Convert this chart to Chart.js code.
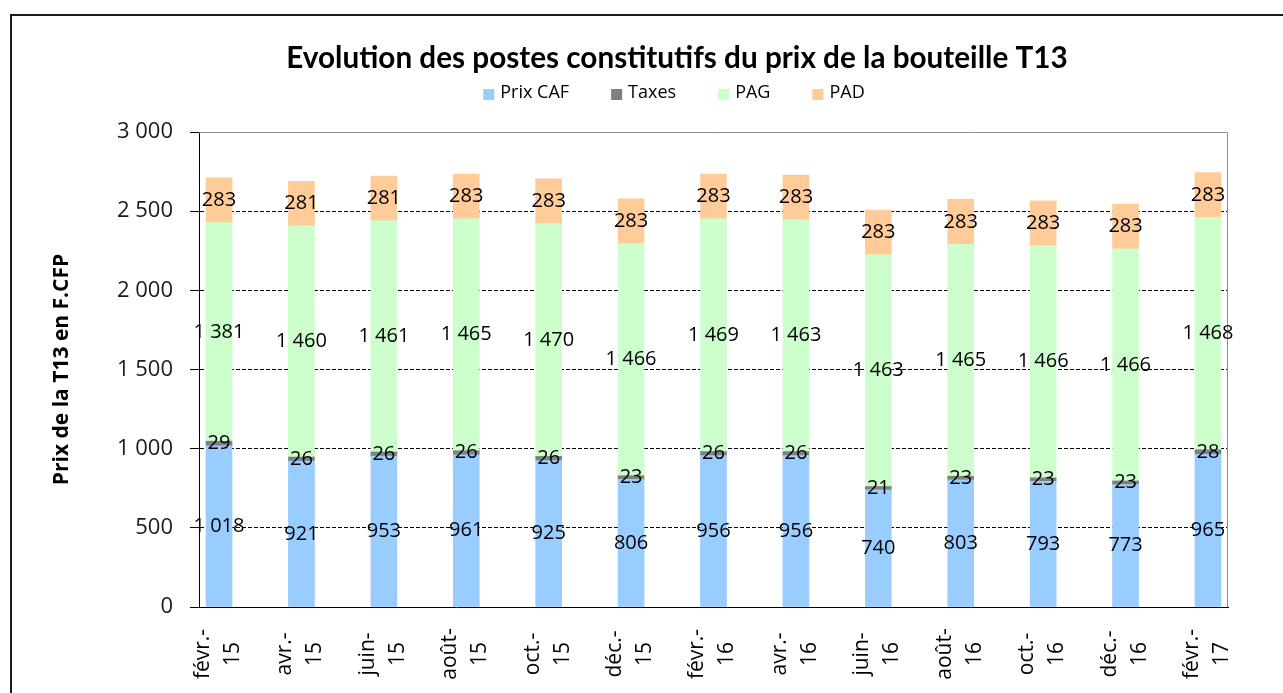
<!DOCTYPE html>
<html>
<head>
<meta charset="utf-8">
<script src="https://cdn.jsdelivr.net/npm/chart.js@4.4.1/dist/chart.umd.min.js"></script>
<style>
  html, body { margin: 0; padding: 0; background: #fff; overflow: hidden; }
  #frame { position: absolute; left: 10px; top: 14px; width: 1300px; height: 700px; border: 2px solid #1a1a1a; }
  #wrap { position: absolute; left: 0; top: 0; width: 1283px; height: 693px; }
</style>
</head>
<body>
<div id="frame"></div>
<div id="wrap"><canvas id="bouteilleChart" width="1283" height="693"></canvas></div>
<script>
// periods (two lines each, as in the excel axis)
const periodes = [
  ["févr.-", "15"], ["avr.-", "15"], ["juin-", "15"], ["août-", "15"], ["oct.-", "15"], ["déc.-", "15"],
  ["févr.-", "16"], ["avr.-", "16"], ["juin-", "16"], ["août-", "16"], ["oct.-", "16"], ["déc.-", "16"],
  ["févr.-", "17"]
];

const prixCaf = [1018, 921, 953, 961, 925, 806, 956, 956, 740, 803, 793, 773, 965];
const taxes = [29, 26, 26, 26, 26, 23, 26, 26, 21, 23, 23, 23, 28];
const pag = [1381, 1460, 1461, 1465, 1470, 1466, 1469, 1463, 1463, 1465, 1466, 1466, 1468];
const pad = [283, 281, 281, 283, 283, 283, 283, 283, 283, 283, 283, 283, 283];

const yTicks = [0, 500, 1000, 1500, 2000, 2500, 3000];

const series = [
  { label: "Prix CAF", values: prixCaf, color: "#99CCFF" },
  { label: "Taxes", values: taxes, color: "#808080" },
  { label: "PAG", values: pag, color: "#CCFFCC" },
  { label: "PAD", values: pad, color: "#FFCC99" },
];

function fmt(v) {
  return String(v).replace(/\B(?=(\d{3})+(?!\d))/g, " ");
}

// title + legend drawn by hand so they sit where excel put them
const headerPlugin = {
  id: "header",
  afterDraw(chart) {
    const ctx = chart.ctx;
    ctx.save();
    ctx.fillStyle = "#000";
    ctx.font = "bold 29.7px Lato";
    ctx.textAlign = "center";
    ctx.textBaseline = "middle";
    ctx.fillText("Evolution des postes constitutifs du prix de la bouteille T13", 677, 58);

    ctx.font = "18px 'Open Sans'";
    const box = 11, gapText = 6, gapItem = 42;
    let total = 0;
    series.forEach((s, i) => {
      total += box + gapText + ctx.measureText(s.label).width;
      if (i < series.length - 1) total += gapItem;
    });
    let x = 674 - total / 2;
    const y = 94;
    ctx.textAlign = "left";
    series.forEach((s) => {
      ctx.fillStyle = s.color;
      ctx.fillRect(x, y - 5, box, box);
      x += box + gapText;
      ctx.fillStyle = "#000";
      ctx.fillText(s.label, x, y - 1);
      x += ctx.measureText(s.label).width + gapItem;
    });
    ctx.restore();
  },
};

// grey frame of the plot area (top and right side)
const plotFramePlugin = {
  id: "plotFrame",
  beforeDatasetsDraw(chart) {
    const a = chart.chartArea;
    const ctx = chart.ctx;
    ctx.save();
    ctx.strokeStyle = "#8c8c8c";
    ctx.lineWidth = 1;
    ctx.beginPath();
    ctx.moveTo(a.left, a.top + 0.5);
    ctx.lineTo(a.right - 0.5, a.top + 0.5);
    ctx.lineTo(a.right - 0.5, a.bottom);
    ctx.stroke();
    ctx.restore();
  },
};

// value labels in the middle of every segment
const valueLabelPlugin = {
  id: "valueLabels",
  afterDatasetsDraw(chart) {
    const ctx = chart.ctx;
    ctx.save();
    ctx.font = "20px 'Open Sans'";
    ctx.fillStyle = "#000";
    ctx.textAlign = "center";
    ctx.textBaseline = "middle";
    chart.data.datasets.forEach((ds, di) => {
      const meta = chart.getDatasetMeta(di);
      meta.data.forEach((bar, i) => {
        const p = bar.getProps(["x", "y", "base"], true);
        ctx.fillText(fmt(ds.data[i].y), p.x, (p.y + p.base) / 2);
      });
    });
    ctx.restore();
  },
};

// rotated two-line category labels under the axis
const periodLabelPlugin = {
  id: "periodLabels",
  afterDraw(chart) {
    const ctx = chart.ctx;
    const xs = chart.scales.x;
    ctx.save();
    ctx.font = "21px 'Open Sans'";
    ctx.fillStyle = "#000";
    ctx.textAlign = "center";
    ctx.textBaseline = "middle";
    periodes.forEach((p, i) => {
      ctx.save();
      ctx.translate(xs.getPixelForValue(i), 654);
      ctx.rotate(-Math.PI / 2);
      ctx.fillText(p[0], 0, -16);
      ctx.fillText(p[1], 0, 14);
      ctx.restore();
    });
    ctx.restore();
  },
};

const data = {
  datasets: series.map((s) => ({
    label: s.label,
    data: s.values.map((v, i) => ({ x: i, y: v })),
    backgroundColor: s.color,
    borderWidth: 0,
    barThickness: 26,
  })),
};

const config = {
  type: "bar",
  data: data,
  options: {
    responsive: false,
    animation: false,
    layout: { padding: { top: 132, right: 55, left: 0, bottom: 0 } },
    plugins: {
      legend: { display: false },
      title: { display: false },
      tooltip: { enabled: false },
    },
    scales: {
      x: {
        type: "linear",
        stacked: true,
        offset: false,
        min: -0.243,
        max: 12.243,
        afterFit: (s) => { s.height = 86; },
        ticks: { display: false },
        grid: { display: false, drawTicks: false, offset: false },
        border: { display: true, color: "#000", width: 1 },
      },
      y: {
        stacked: true,
        min: 0,
        max: 3000,
        afterFit: (s) => { s.width = 199; },
        afterBuildTicks: (s) => { s.ticks = yTicks.map((v) => ({ value: v })); },
        ticks: {
          padding: 17,
          color: "#1a1a1a",
          font: { family: "'Open Sans'", size: 22 },
          callback: (v) => fmt(v),
        },
        grid: {
          color: (c) => (c.tick && (c.tick.value === 0 || c.tick.value === 3000) ? "rgba(0,0,0,0)" : "#000"),
          lineWidth: 1,
          tickLength: 9,
          tickColor: "#000",
        },
        border: { display: true, color: "#000", width: 1, dash: [4, 2] },
        title: {
          display: true,
          text: "Prix de la T13 en F.CFP",
          color: "#000",
          font: { family: "'Open Sans'", size: 21, weight: "bold" },
          padding: { top: 49, bottom: 0 },
        },
      },
    },
  },
  plugins: [headerPlugin, plotFramePlugin, valueLabelPlugin, periodLabelPlugin],
};

const bouteilleChart = new Chart(document.getElementById("bouteilleChart"), config);
</script>
</body>
</html>
